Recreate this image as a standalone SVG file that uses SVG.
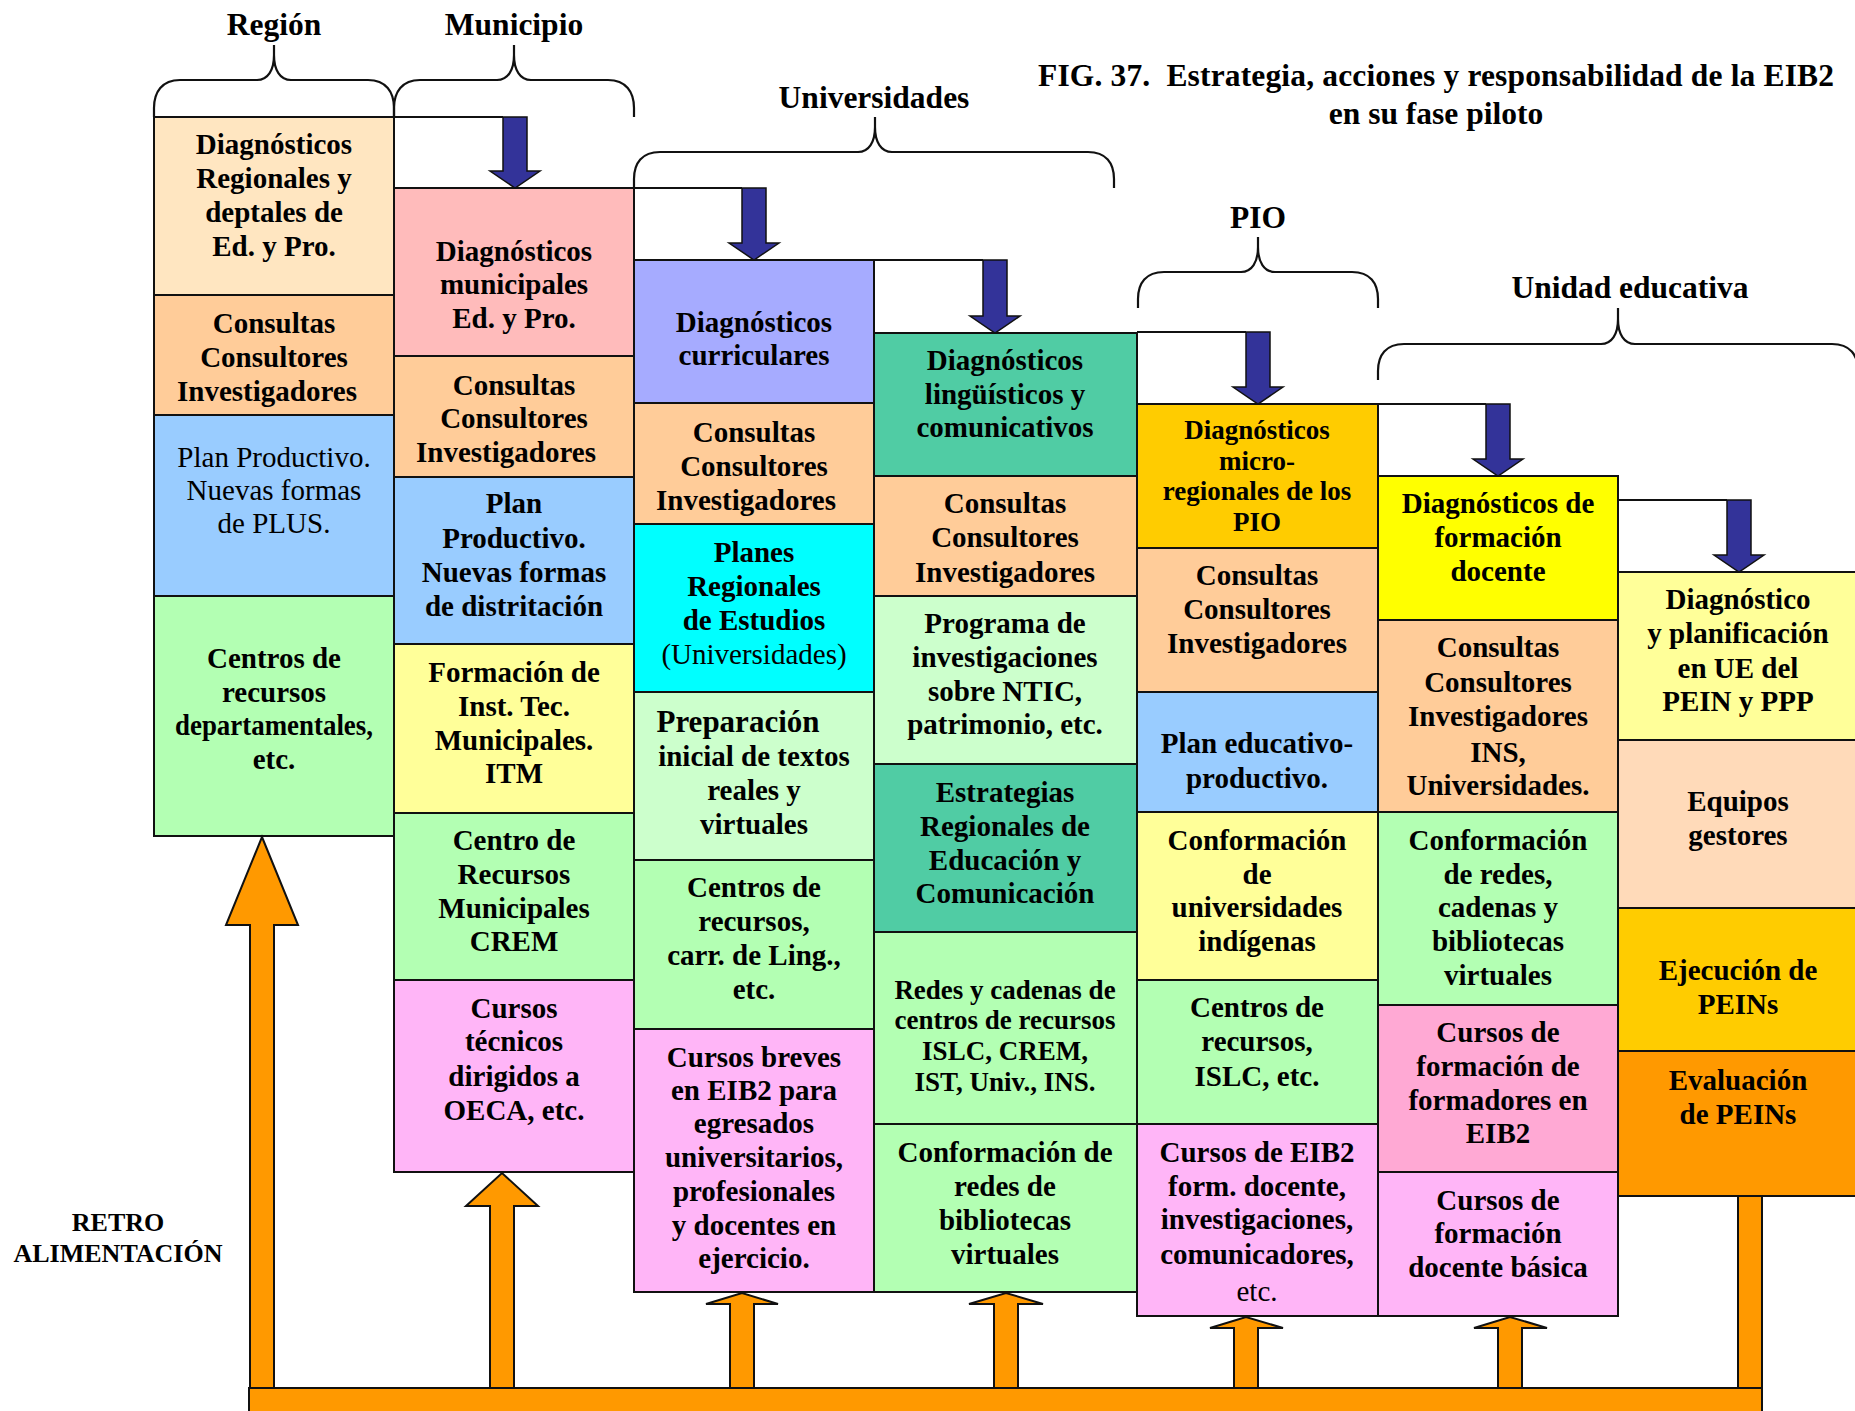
<svg xmlns="http://www.w3.org/2000/svg" width="1855" height="1411" viewBox="0 0 1855 1411">
  <style>
    text { font-family: "Liberation Serif", "Times New Roman", serif; font-weight: bold; font-size: 29px; text-anchor: middle; fill: #000; }
    .n { font-weight: normal; }
    .s27 { font-size: 27px; }
    .hd { font-size: 31.5px; }
    .box { stroke: #111; stroke-width: 2; }
    .brace { fill: none; stroke: #111; stroke-width: 2.2; }
    .link { fill: none; stroke: #111; stroke-width: 2; }
    .down { fill: #333399; stroke: #111; stroke-width: 1.5; }
    .up { fill: #FF9900; stroke: #111; stroke-width: 2; }
  </style>
  <rect width="1855" height="1411" fill="#fff"/>

  <!-- title -->
  <g id="title">
    <text class="hd" x="1436" y="86" textLength="796" lengthAdjust="spacing">FIG. 37.&#160; Estrategia, acciones y responsabilidad de la EIB2</text>
    <text class="hd" x="1436" y="124">en su fase piloto</text>
  </g>

  <!-- level headers with braces -->
  <g id="hdr-region">
    <text class="hd" x="274" y="35">Región</text>
    <path class="brace" d="M154,117 L154,108 C154,92 162,80 180,80 L257,80 C268,80 274,70 274,55 L274,45 M274,45 L274,55 C274,70 280,80 291,80 L368,80 C386,80 394,92 394,108 L394,117"/>
  </g>
  <g id="hdr-municipio">
    <text class="hd" x="514" y="35">Municipio</text>
    <path class="brace" d="M394,117 L394,108 C394,92 402,80 420,80 L497,80 C508,80 514,70 514,55 L514,45 M514,45 L514,55 C514,70 520,80 531,80 L608,80 C626,80 634,92 634,108 L634,117"/>
  </g>
  <g id="hdr-universidades">
    <text class="hd" x="874" y="108">Universidades</text>
    <path class="brace" d="M634,188 L634,179 C634,163 642,152 660,152 L858,152 C869,152 875,142 875,127 L875,117 M875,117 L875,127 C875,142 881,152 892,152 L1088,152 C1106,152 1114,163 1114,179 L1114,188"/>
  </g>
  <g id="hdr-pio">
    <text class="hd" x="1258" y="228">PIO</text>
    <path class="brace" d="M1138,308 L1138,299 C1138,283 1146,272 1164,272 L1241,272 C1252,272 1258,262 1258,247 L1258,237 M1258,237 L1258,247 C1258,262 1264,272 1275,272 L1352,272 C1370,272 1378,283 1378,299 L1378,308"/>
  </g>
  <g id="hdr-unidad">
    <text class="hd" x="1630" y="298">Unidad educativa</text>
    <path class="brace" d="M1378,380 L1378,371 C1378,355 1386,344 1404,344 L1601,344 C1612,344 1618,334 1618,319 L1618,308 M1618,308 L1618,319 C1618,334 1624,344 1635,344 L1832,344 C1850,344 1858,355 1858,371 L1858,380"/>
  </g>

  <!-- Región column -->
  <g id="n1a"><rect class="box" x="154" y="117" width="240" height="178" fill="#FFE6C1"/>
    <text x="274" y="154">Diagnósticos</text><text x="274" y="188">Regionales y</text><text x="274" y="222">deptales de</text><text x="274" y="256">Ed. y Pro.</text></g>
  <g id="n1b"><rect class="box" x="154" y="295" width="240" height="120" fill="#FFCC99"/>
    <text x="274" y="333">Consultas</text><text x="274" y="367">Consultores</text><text x="267" y="401">Investigadores</text></g>
  <g id="n1c"><rect class="box" x="154" y="415" width="240" height="181" fill="#99CCFF"/>
    <text class="n" x="274" y="467">Plan Productivo.</text><text class="n" x="274" y="500">Nuevas formas</text><text class="n" x="274" y="533">de PLUS.</text></g>
  <g id="n1d"><rect class="box" x="154" y="596" width="240" height="240" fill="#B3FFB3"/>
    <text x="274" y="668">Centros de</text><text x="274" y="702">recursos</text><text x="274" y="735" textLength="198" lengthAdjust="spacingAndGlyphs">departamentales,</text><text x="274" y="769">etc.</text></g>

  <!-- Municipio column -->
  <g id="n2a"><rect class="box" x="394" y="188" width="240" height="168" fill="#FFBBBB"/>
    <text x="514" y="261">Diagnósticos</text><text x="514" y="294">municipales</text><text x="514" y="328">Ed. y Pro.</text></g>
  <g id="n2b"><rect class="box" x="394" y="356" width="240" height="121" fill="#FFCC99"/>
    <text x="514" y="395">Consultas</text><text x="514" y="428">Consultores</text><text x="506" y="462">Investigadores</text></g>
  <g id="n2c"><rect class="box" x="394" y="477" width="240" height="167" fill="#99CCFF"/>
    <text x="514" y="513">Plan</text><text x="514" y="548">Productivo.</text><text x="514" y="582">Nuevas formas</text><text x="514" y="616">de distritación</text></g>
  <g id="n2d"><rect class="box" x="394" y="644" width="240" height="169" fill="#FFFF99"/>
    <text x="514" y="682">Formación de</text><text x="514" y="716">Inst. Tec.</text><text x="514" y="750">Municipales.</text><text x="514" y="783">ITM</text></g>
  <g id="n2e"><rect class="box" x="394" y="813" width="240" height="167" fill="#B3FFB3"/>
    <text x="514" y="850">Centro de</text><text x="514" y="884">Recursos</text><text x="514" y="918">Municipales</text><text x="514" y="951">CREM</text></g>
  <g id="n2f"><rect class="box" x="394" y="980" width="240" height="192" fill="#FFB5F7"/>
    <text x="514" y="1018">Cursos</text><text x="514" y="1051">técnicos</text><text x="514" y="1086">dirigidos a</text><text x="514" y="1120">OECA, etc.</text></g>

  <!-- Universidades column -->
  <g id="n3a"><rect class="box" x="634" y="260" width="240" height="143" fill="#A6ABFF"/>
    <text x="754" y="332">Diagnósticos</text><text x="754" y="365">curriculares</text></g>
  <g id="n3b"><rect class="box" x="634" y="403" width="240" height="121" fill="#FFCC99"/>
    <text x="754" y="442">Consultas</text><text x="754" y="476">Consultores</text><text x="746" y="510">Investigadores</text></g>
  <g id="n3c"><rect class="box" x="634" y="524" width="240" height="168" fill="#00FFFF"/>
    <text x="754" y="562">Planes</text><text x="754" y="596">Regionales</text><text x="754" y="630">de Estudios</text><text class="n" x="754" y="664">(Universidades)</text></g>
  <g id="n3d"><rect class="box" x="634" y="692" width="240" height="168" fill="#CCFFCC"/>
    <text x="738" y="732" style="font-size:31px">Preparación</text><text x="754" y="766">inicial de textos</text><text x="754" y="800">reales y</text><text x="754" y="834">virtuales</text></g>
  <g id="n3e"><rect class="box" x="634" y="860" width="240" height="169" fill="#B3FFB3"/>
    <text x="754" y="897">Centros de</text><text x="754" y="931">recursos,</text><text x="754" y="965">carr. de Ling.,</text><text x="754" y="999">etc.</text></g>
  <g id="n3f"><rect class="box" x="634" y="1029" width="240" height="263" fill="#FFB5F7"/>
    <text x="754" y="1067">Cursos breves</text><text x="754" y="1100">en EIB2 para</text><text x="754" y="1133">egresados</text><text x="754" y="1167">universitarios,</text><text x="754" y="1201">profesionales</text><text x="754" y="1235">y docentes en</text><text x="754" y="1268">ejercicio.</text></g>

  <!-- language / communication column -->
  <g id="n4a"><rect class="box" x="874" y="333" width="263" height="143" fill="#50CCA4"/>
    <text x="1005" y="370">Diagnósticos</text><text x="1005" y="404">lingüísticos y</text><text x="1005" y="437">comunicativos</text></g>
  <g id="n4b"><rect class="box" x="874" y="476" width="263" height="120" fill="#FFCC99"/>
    <text x="1005" y="513">Consultas</text><text x="1005" y="547">Consultores</text><text x="1005" y="582">Investigadores</text></g>
  <g id="n4c"><rect class="box" x="874" y="596" width="263" height="168" fill="#CCFFCC"/>
    <text x="1005" y="633">Programa de</text><text x="1005" y="667">investigaciones</text><text x="1005" y="701">sobre NTIC,</text><text x="1005" y="734">patrimonio, etc.</text></g>
  <g id="n4d"><rect class="box" x="874" y="764" width="263" height="168" fill="#50CCA4"/>
    <text x="1005" y="802">Estrategias</text><text x="1005" y="836">Regionales de</text><text x="1005" y="870">Educación y</text><text x="1005" y="903">Comunicación</text></g>
  <g id="n4e"><rect class="box" x="874" y="932" width="263" height="192" fill="#B3FFB3"/>
    <text class="s27" x="1005" y="999">Redes y cadenas de</text><text class="s27" x="1005" y="1029">centros de recursos</text><text class="s27" x="1005" y="1060">ISLC, CREM,</text><text class="s27" x="1005" y="1091">IST, Univ., INS.</text></g>
  <g id="n4f"><rect class="box" x="874" y="1124" width="263" height="168" fill="#B3FFB3"/>
    <text x="1005" y="1162">Conformación de</text><text x="1005" y="1196">redes de</text><text x="1005" y="1230">bibliotecas</text><text x="1005" y="1264">virtuales</text></g>

  <!-- PIO column -->
  <g id="n5a"><rect class="box" x="1137" y="404" width="241" height="144" fill="#FFCC00"/>
    <text class="s27" x="1257" y="439">Diagnósticos</text><text class="s27" x="1257" y="470">micro-</text><text class="s27" x="1257" y="500">regionales de los</text><text class="s27" x="1257" y="531">PIO</text></g>
  <g id="n5b"><rect class="box" x="1137" y="548" width="241" height="144" fill="#FFCC99"/>
    <text x="1257" y="585">Consultas</text><text x="1257" y="619">Consultores</text><text x="1257" y="653">Investigadores</text></g>
  <g id="n5c"><rect class="box" x="1137" y="692" width="241" height="120" fill="#99CCFF"/>
    <text x="1257" y="753">Plan educativo-</text><text x="1257" y="788">productivo.</text></g>
  <g id="n5d"><rect class="box" x="1137" y="812" width="241" height="168" fill="#FFFF99"/>
    <text x="1257" y="850">Conformación</text><text x="1257" y="884">de</text><text x="1257" y="917">universidades</text><text x="1257" y="951">indígenas</text></g>
  <g id="n5e"><rect class="box" x="1137" y="980" width="241" height="144" fill="#B3FFB3"/>
    <text x="1257" y="1017">Centros de</text><text x="1257" y="1051">recursos,</text><text x="1257" y="1086">ISLC, etc.</text></g>
  <g id="n5f"><rect class="box" x="1137" y="1124" width="241" height="192" fill="#FFB5F7"/>
    <text x="1257" y="1162">Cursos de EIB2</text><text x="1257" y="1196">form. docente,</text><text x="1257" y="1229">investigaciones,</text><text x="1257" y="1264">comunicadores,</text><text class="n" x="1257" y="1301">etc.</text></g>

  <!-- Unidad educativa: teacher training column -->
  <g id="n6a"><rect class="box" x="1378" y="476" width="240" height="144" fill="#FFFF00"/>
    <text x="1498" y="513">Diagnósticos de</text><text x="1498" y="547">formación</text><text x="1498" y="581">docente</text></g>
  <g id="n6b"><rect class="box" x="1378" y="620" width="240" height="192" fill="#FFCC99"/>
    <text x="1498" y="657">Consultas</text><text x="1498" y="692">Consultores</text><text x="1498" y="726">Investigadores</text><text x="1498" y="762">INS,</text><text x="1498" y="795">Universidades.</text></g>
  <g id="n6c"><rect class="box" x="1378" y="812" width="240" height="193" fill="#B3FFB3"/>
    <text x="1498" y="850">Conformación</text><text x="1498" y="884">de redes,</text><text x="1498" y="917">cadenas y</text><text x="1498" y="951">bibliotecas</text><text x="1498" y="985">virtuales</text></g>
  <g id="n6d"><rect class="box" x="1378" y="1005" width="240" height="167" fill="#FFA9D4"/>
    <text x="1498" y="1042">Cursos de</text><text x="1498" y="1076">formación de</text><text x="1498" y="1110">formadores en</text><text x="1498" y="1143">EIB2</text></g>
  <g id="n6e"><rect class="box" x="1378" y="1172" width="240" height="144" fill="#FFB5F7"/>
    <text x="1498" y="1210">Cursos de</text><text x="1498" y="1243">formación</text><text x="1498" y="1277">docente básica</text></g>

  <!-- Unidad educativa: PEIN column -->
  <g id="n7a"><rect class="box" x="1618" y="572" width="250" height="168" fill="#FFFF99"/>
    <text x="1738" y="609">Diagnóstico</text><text x="1738" y="643">y planificación</text><text x="1738" y="678">en UE del</text><text x="1738" y="711">PEIN y PPP</text></g>
  <g id="n7b"><rect class="box" x="1618" y="740" width="250" height="168" fill="#FFDAB9"/>
    <text x="1738" y="811">Equipos</text><text x="1738" y="845">gestores</text></g>
  <g id="n7c"><rect class="box" x="1618" y="908" width="250" height="143" fill="#FFCC00"/>
    <text x="1738" y="980">Ejecución de</text><text x="1738" y="1014">PEINs</text></g>
  <g id="n7d"><rect class="box" x="1618" y="1051" width="250" height="145" fill="#FF9900"/>
    <text x="1738" y="1090">Evaluación</text><text x="1738" y="1124">de PEINs</text></g>

  <!-- feedback label -->
  <g id="retro">
    <text style="font-size:26px" x="118" y="1231">RETRO</text>
    <text style="font-size:26px" x="118" y="1262">ALIMENTACIÓN</text>
  </g>

  <!-- connectors: downward cascade and feedback loop -->
  <g id="connectors">
    <path class="link" d="M394,117 H503 M634,188 H742 M874,260 H983 M1137,332 H1246 M1378,404 H1486 M1618,500 H1727"/>
    <polygon class="down" points="503,117 527,117 527,171 540,171 515,188 490,171 503,171"/>
    <polygon class="down" points="742,188 766,188 766,243 779,243 754,260 729,243 742,243"/>
    <polygon class="down" points="983,260 1007,260 1007,316 1020,316 995,333 970,316 983,316"/>
    <polygon class="down" points="1246,332 1270,332 1270,387 1283,387 1258,404 1233,387 1246,387"/>
    <polygon class="down" points="1486,404 1510,404 1510,459 1523,459 1498,476 1473,459 1486,459"/>
    <polygon class="down" points="1727,500 1751,500 1751,555 1764,555 1739,572 1714,555 1727,555"/>

    <rect class="up" x="249" y="1388" width="1513" height="30"/>
    <polygon class="up" points="250,1388 250,925 226,925 262,837 298,925 274,925 274,1388"/>
    <polygon class="up" points="490,1388 490,1206 466,1206 502,1173 538,1206 514,1206 514,1388"/>
    <polygon class="up" points="730,1388 730,1304 706,1304 742,1293 778,1304 754,1304 754,1388"/>
    <polygon class="up" points="994,1388 994,1304 969,1304 1006,1293 1043,1304 1018,1304 1018,1388"/>
    <polygon class="up" points="1234,1388 1234,1328 1210,1328 1246,1317 1283,1328 1258,1328 1258,1388"/>
    <polygon class="up" points="1498,1388 1498,1328 1474,1328 1510,1317 1547,1328 1522,1328 1522,1388"/>
    <rect class="up" x="1738" y="1196" width="24" height="192"/>
  </g>
</svg>
